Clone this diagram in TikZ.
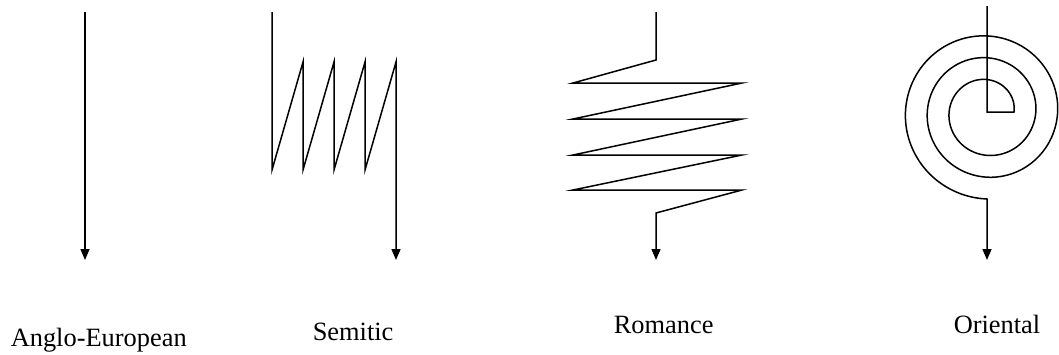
\documentclass[tikz,border=0pt]{standalone}
\usepackage{fontspec}
\setmainfont{Liberation Serif}
\usepackage{tikz}
\usetikzlibrary{arrows.meta}

\begin{document}
\begin{tikzpicture}[x=0.5pt, y=-0.5pt, line width=0.75pt,
		flow/.style={-{Triangle[length=5.5pt,width=4.5pt]}},
		lbl/.style={anchor=base west, inner sep=0pt, font=\fontsize{13.2}{15}\selectfont}]
		\useasboundingbox (0,0) rectangle (1059,354);

		% Anglo-European: straight down
		\coordinate (ae-top) at (85,12);
		\coordinate (ae-end) at (85,260);
		\draw[flow] (ae-top) -- (ae-end);

		% Semitic: saw-tooth
		\coordinate (se-top) at (272,12);
		\coordinate (se-end) at (396,260);
		\draw[flow] (se-top) -- (272,170) -- (303,62) -- (303,170) -- (334,62) -- (334,170)
			-- (365,62) -- (365,170) -- (396,62) -- (se-end);

		% Romance: zig-zag
		\coordinate (ro-top) at (656,12);
		\coordinate (ro-end) at (656,260);
		\draw[flow] (ro-top) -- (656,60) -- (573,83) -- (742,83) -- (573,119) -- (742,119)
			-- (573,155) -- (742,155) -- (573,190) -- (742,190) -- (656,213) -- (ro-end);

		% Oriental: spiral
		\coordinate (or-top) at (987,6);
		\coordinate (or-mid) at (987,112);
		\coordinate (or-end) at (987,260);
		\draw[flow] (or-top) -- (or-mid) -- (1014,112)
			-- plot[domain=0:990, samples=221, smooth, variable=\t]
				({987+(27+\t/16.5)*cos(\t)}, {112-(27+\t/16.5)*sin(\t)})
			-- (or-end);

		\node[lbl] (anglo) at (10,346) {Anglo-European};
		\node[lbl] (semitic) at (312,340) {Semitic};
		\node[lbl] (romance) at (613,333) {Romance};
		\node[lbl] (oriental) at (953,333) {Oriental};
	\end{tikzpicture}
\end{document}
